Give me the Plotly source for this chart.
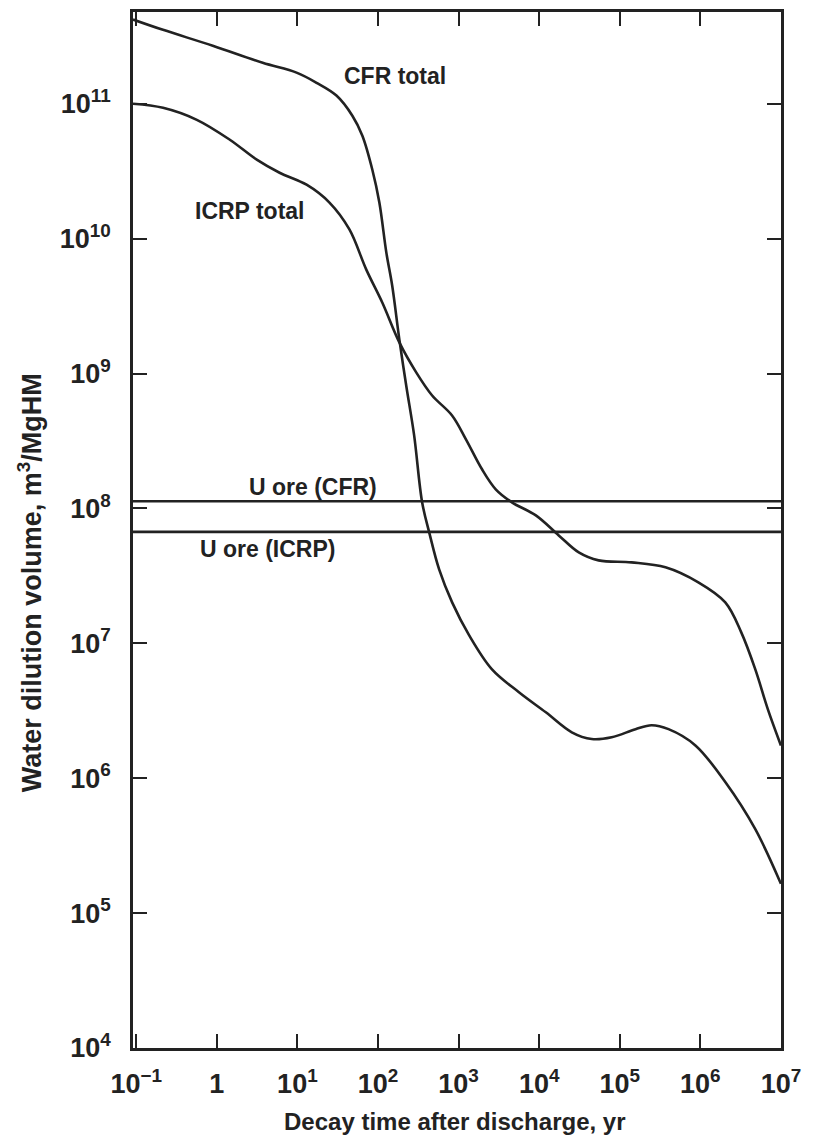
import math
import plotly.graph_objects as go

# ---- data ----
cfr_years = [0.0912, 0.215, 0.891, 3.71, 9.75, 17.3, 30.5, 48.1, 64.0, 85.1, 104, 127, 150,
             184, 224, 281, 353, 432, 574, 832, 1349, 2600, 5610, 12100, 25400, 44900,
             79400, 157000, 248000, 403000, 869000, 2.05e6, 4.81e6, 1.0e7]
cfr_volume = [4.21e11, 3.53e11, 2.69e11, 2.01e11, 1.70e11, 1.43e11, 1.15e11, 8.15e10, 5.79e10,
              3.24e10, 1.85e10, 7.87e9, 4.49e9, 1.79e9, 8.15e8, 3.48e8, 1.11e8, 6.64e7, 3.53e7,
              2.01e7, 1.15e7, 6.41e6, 4.34e6, 3.08e6, 2.19e6, 1.95e6, 2.01e6, 2.31e6, 2.47e6,
              2.31e6, 1.75e6, 9.33e5, 4.19e5, 1.65e5]

icrp_years = [0.0912, 0.215, 0.565, 1.45, 3.13, 6.01, 13.0, 25.0, 44.2, 71.6, 113, 184, 298,
              470, 830, 1239, 1954, 2911, 4592, 9100, 17500, 31000, 54700, 140000, 369000,
              944000, 2.04e6, 3.21e6, 4.81e6, 6.89e6, 1.0e7]
icrp_volume = [1.0e11, 9.33e10, 7.60e10, 5.41e10, 3.85e10, 3.08e10, 2.51e10, 1.85e10, 1.17e10,
               5.89e9, 3.36e9, 1.70e9, 1.02e9, 6.87e8, 4.89e8, 3.24e8, 1.95e8, 1.38e8, 1.11e8,
               8.87e7, 6.31e7, 4.72e7, 4.12e7, 3.98e7, 3.66e7, 2.83e7, 2.01e7, 1.21e7, 6.41e6,
               3.24e6, 1.75e6]

u_ore_cfr = 1.13e8
u_ore_icrp = 6.7e7

x_tick_vals = [0.1, 1, 10, 100, 1e3, 1e4, 1e5, 1e6, 1e7]
x_tick_text = ["10<sup>\u22121</sup>", "1", "10<sup>1</sup>", "10<sup>2</sup>", "10<sup>3</sup>",
               "10<sup>4</sup>", "10<sup>5</sup>", "10<sup>6</sup>", "10<sup>7</sup>"]
y_tick_vals = [1e4, 1e5, 1e6, 1e7, 1e8, 1e9, 1e10, 1e11]
y_tick_text = ["10<sup>4</sup>", "10<sup>5</sup>", "10<sup>6</sup>", "10<sup>7</sup>",
               "10<sup>8</sup>", "10<sup>9</sup>", "10<sup>10</sup>", "10<sup>11</sup>"]

# curve labels: (text, x-years, y-volume)
label_texts = ["CFR total", "ICRP total", "U ore (CFR)", "U ore (ICRP)"]
label_x = [36.1, 0.505, 2.35, 0.582]
label_y = [1.61e11, 1.61e10, 1.43e8, 4.97e7]

INK = "#222222"
FONT = "Liberation Sans, Arial, Helvetica, sans-serif"

fig = go.Figure()
fig.add_trace(go.Scatter(x=cfr_years, y=cfr_volume, mode="lines",
                         line=dict(color=INK, width=2.6, shape="spline", smoothing=1.0),
                         showlegend=False, hoverinfo="skip"))
fig.add_trace(go.Scatter(x=icrp_years, y=icrp_volume, mode="lines",
                         line=dict(color=INK, width=2.6, shape="spline", smoothing=1.0),
                         showlegend=False, hoverinfo="skip"))
fig.add_hline(y=u_ore_cfr, line=dict(color=INK, width=2.6))
fig.add_hline(y=u_ore_icrp, line=dict(color=INK, width=2.6))

for t, lx, ly in zip(label_texts, label_x, label_y):
    fig.add_annotation(x=math.log10(lx), y=math.log10(ly),
                       text="<b>%s</b>" % t, showarrow=False, xanchor="left", yanchor="middle",
                       font=dict(family=FONT, size=23, color=INK))

axis_common = dict(showline=True, linecolor=INK, linewidth=2.6, mirror="ticks",
                   ticks="inside", ticklen=14, tickwidth=2.2, tickcolor=INK,
                   showgrid=False, zeroline=False,
                   tickfont=dict(family=FONT, size=27, color=INK, weight="bold"))

fig.update_xaxes(type="log", range=[-1.04, 7.001], tickvals=x_tick_vals, ticktext=x_tick_text,
                 ticklabelstandoff=10, **axis_common)
fig.update_yaxes(type="log", range=[4.0, 11.68], tickvals=y_tick_vals, ticktext=y_tick_text,
                 ticklabelstandoff=14, **axis_common)

fig.add_annotation(xref="paper", yref="paper", x=0.497, y=-0.071,
                   text="<b>Decay time after discharge, yr</b>", showarrow=False,
                   xanchor="center", yanchor="middle",
                   font=dict(family=FONT, size=24, color=INK))
fig.add_annotation(xref="paper", yref="paper", x=-0.159, y=0.4495,
                   text="<b>Water dilution volume, m<sup>3</sup>/MgHM</b>", showarrow=False,
                   textangle=-90, xanchor="center", yanchor="middle",
                   font=dict(family=FONT, size=27, color=INK))

# page body adds an 8px offset; size the figure so the plot area lands where the reference has it
fig.update_layout(width=805, height=1139, margin=dict(l=125, r=32, t=1, b=99),
                  plot_bgcolor="white", paper_bgcolor="white",
                  font=dict(family=FONT, color=INK))

fig.write_html("out.html")
